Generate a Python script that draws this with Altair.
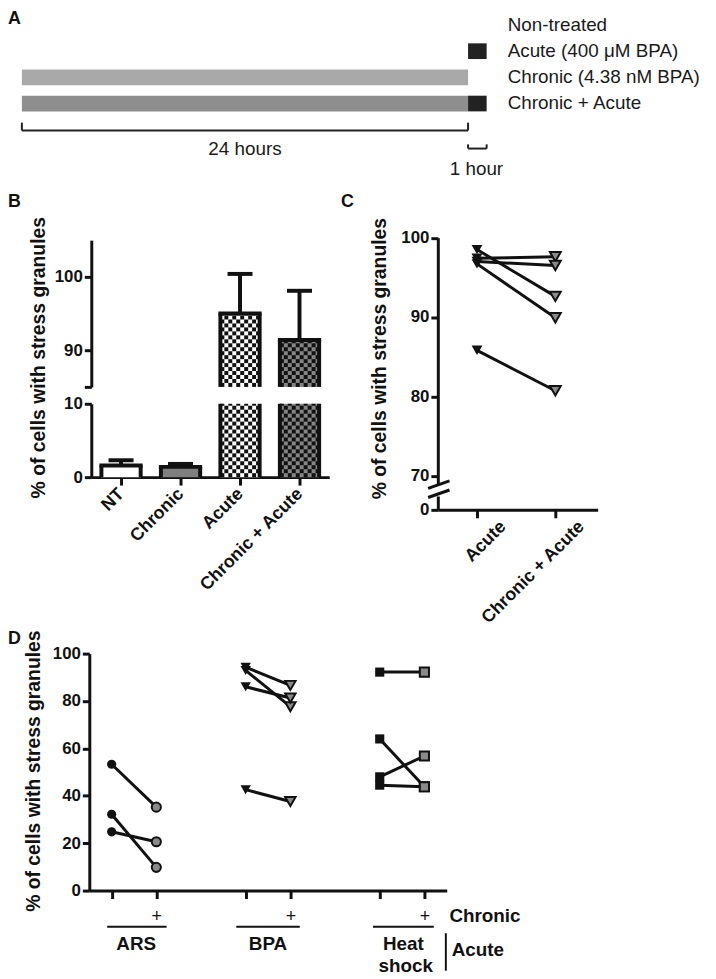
import altair as alt
import numpy as np
import pandas as pd

FONT = "Liberation Sans"
W, H = 706, 970
M = 8  # page margin: image px -> plot px


def P(v):
    return v - M


def sc(dom, rng):
    return alt.Scale(domain=list(dom), range=list(rng), nice=False, zero=False)


BLACK = "#111111"
NOAX = "none"

# ---------------- Panel A data ----------------
a_labels = ["Non-treated", "Acute (400 \u03bcM BPA)", "Chronic (4.38 nM BPA)", "Chronic + Acute"]
a_rows = [0, 1, 2, 3]
seg_row = [1, 2, 3, 3]
seg_start = [24, 0, 0, 24]
seg_end = [25, 24, 24, 25]
seg_color = ["#222222", "#a9a9a9", "#8e8e8e", "#222222"]
span_labels = ["24 hours", "1 hour"]
span_x = [12, 24.45]
span_y = [4.75, 5.51]
bracket = {"x": [0, 0, 24, 24, 24, 25], "x2": [24, 0, 24, 25, 24, 25],
           "y": [4.03, 4.03, 4.03, 4.72, 4.72, 4.72], "y2": [4.03, 3.73, 3.73, 4.72, 4.56, 4.56]}

# ---------------- Panel B data ----------------
b_cats = ["NT", "Chronic", "Acute", "Chronic + Acute"]
b_mean = [1.6, 1.4, 95.0, 91.4]
b_err = [2.3, 1.8, 100.4, 98.1]
b_fill = ["#ffffff", "#7f7f7f", "#ffffff", "#858585"]
b_checker = [False, False, True, True]

# ---------------- Panel C data ----------------
c_cats = ["Acute", "Chronic + Acute"]
c_acute = [98.5, 97.4, 97.0, 96.7, 85.8]
c_combo = [92.6, 97.6, 96.5, 89.9, 80.7]

# ---------------- Panel D data ----------------
d_groups = ["ARS", "BPA", "Heat shock"]
d_minus = {"ARS": [53.3, 32.2, 24.8], "BPA": [94.3, 92.9, 86.0, 42.6], "Heat shock": [92.2, 64.0, 48.0, 44.5]}
d_plus = {"ARS": [35.2, 9.8, 20.6], "BPA": [86.6, 77.6, 81.3, 37.6], "Heat shock": [92.2, 43.8, 56.8, 43.8]}
d_pos = {"ARS": (0.5, 1.5), "BPA": (3.5, 4.5), "Heat shock": (6.5, 7.5)}
d_shape = {"ARS": "circle", "BPA": "triangle-down", "Heat shock": "square"}
d_size = {"ARS": 85, "BPA": 110, "Heat shock": 85}


def yaxis(pos_px, values, title="", tx=0, ty=0, fs=17, label_expr=None, tfs=19.5):
    kw = dict(orient="left", offset=-pos_px, values=values, grid=False, format="d",
              domainColor=BLACK, domainWidth=3, tickColor=BLACK, tickWidth=3, tickSize=7,
              labelFont=FONT, labelFontSize=fs, labelFontWeight="bold", labelColor=BLACK,
              labelPadding=2, labelFlush=False, labelOverlap=False, title=title)
    if label_expr:
        kw["labelExpr"] = label_expr
    if title:
        kw.update(titleX=tx, titleY=ty, titleAngle=270, titleAlign="center",
                  titleBaseline="middle", titleFont=FONT, titleFontSize=tfs,
                  titleFontWeight="bold", titleColor=BLACK)
    return alt.Axis(**kw)


def xaxis(pos_px, values, label_expr, angle=0, fs=18, weight="bold", pad=2,
          align="center", baseline="top", loff=0):
    return alt.Axis(orient="bottom", offset=pos_px - H, values=values, grid=False,
                    domainColor=BLACK, domainWidth=3, tickColor=BLACK, tickWidth=3, tickSize=8,
                    labelFont=FONT, labelFontSize=fs, labelFontWeight=weight, labelColor=BLACK,
                    labelPadding=pad, labelFlush=False, labelOverlap=False, labelExpr=label_expr,
                    labelAngle=angle, labelAlign=align, labelBaseline=baseline, labelOffset=loff, title="")


def enc(xs, ys, xa=NOAX, ya=NOAX, two=False):
    """xa/ya: an alt.Axis, NOAX (no axis), or 'merge' (unspecified, merges with the panel axis)."""
    xk = dict(scale=xs)
    yk = dict(scale=ys)
    if xa is NOAX:
        xk["axis"] = None
    elif xa != "merge":
        xk["axis"] = xa
    if ya is NOAX:
        yk["axis"] = None
    elif ya != "merge":
        yk["axis"] = ya
    e = dict(x=alt.X("x:Q", **xk), y=alt.Y("y:Q", **yk))
    if two:
        e["x2"] = alt.X2("x2:Q")
        e["y2"] = alt.Y2("y2:Q")
    return e


def letter(ch, x, y, xs, ys, xa=NOAX, ya=NOAX):
    return alt.Chart(pd.DataFrame({"x": [x], "y": [y], "t": [ch]})).mark_text(
        align="left", baseline="middle", fontSize=18, fontWeight="bold", color=BLACK).encode(
        **enc(xs, ys, xa, ya), text="t:N")


# ================= Panel A =================
ax = sc([0, 24], [P(22), P(472)])
ay = sc([0, 3], [P(21), P(100.2)])
segs = pd.DataFrame({"x": seg_start, "x2": seg_end,
                     "y": [r - 0.3 for r in seg_row], "y2": [r + 0.3 for r in seg_row],
                     "c": seg_color})
A_bars = alt.Chart(segs).mark_rect().encode(**enc(ax, ay, two=True), color=alt.Color("c:N", scale=None))
A_br = alt.Chart(pd.DataFrame(bracket)).mark_rule(color="#222222", strokeWidth=2).encode(**enc(ax, ay, two=True))
A_leg = alt.Chart(pd.DataFrame({"x": [26.13] * 4, "y": a_rows, "t": a_labels})).mark_text(
    align="left", baseline="middle", fontSize=19, color="#1a1a1a").encode(**enc(ax, ay), text="t:N")
A_span = alt.Chart(pd.DataFrame({"x": span_x, "y": span_y, "t": span_labels})).mark_text(
    align="center", baseline="middle", fontSize=19, color="#1a1a1a").encode(**enc(ax, ay), text="t:N")
A_let = letter("A", -0.747, -0.22, ax, ay)
panelA = alt.layer(A_bars, A_br, A_leg, A_span, A_let)

# ================= Panel B =================
bx = sc([0, 4], [P(92), P(332)])
HALF = 0.33
CW = 4 / 60.0
CH = 4 / 7.4


def b_segment(lo, hi, ys, ya, xa):
    pieces, cells, sides, tops, errs = [], [], [], [], []
    for i, (m, e, f, chk) in enumerate(zip(b_mean, b_err, b_fill, b_checker)):
        c = i + 0.5
        if m <= lo:
            continue
        y0, y1 = lo, min(m, hi)
        pieces.append({"x": c - HALF, "x2": c + HALF, "y": y0, "y2": y1, "c": f})
        if chk:
            nx = int(np.ceil(2 * HALF / CW))
            ny = int(np.ceil((y1 - y0) / CH))
            for ix in range(nx):
                for iy in range(ny):
                    if (ix + iy) % 2 == 0:
                        cells.append({"x": c - HALF + ix * CW, "x2": min(c - HALF + (ix + 1) * CW, c + HALF),
                                      "y": y0 + iy * CH, "y2": min(y0 + (iy + 1) * CH, y1)})
        sides.append({"x": c - HALF, "x2": c - HALF, "y": y0, "y2": y1})
        sides.append({"x": c + HALF, "x2": c + HALF, "y": y0, "y2": y1})
        if m <= hi:
            tops.append({"x": c - HALF, "x2": c + HALF, "y": m, "y2": m})
            errs.append({"x": c, "x2": c, "y": m, "y2": e})
            errs.append({"x": c - 0.21, "x2": c + 0.21, "y": e, "y2": e})
    cols = ["x", "x2", "y", "y2"]
    mx = NOAX if xa is NOAX else "merge"
    my = "merge"
    fill = alt.Chart(pd.DataFrame(pieces)).mark_rect().encode(
        **enc(bx, ys, xa, ya, two=True), color=alt.Color("c:N", scale=None))
    layers = [fill]
    if cells:
        layers.append(alt.Chart(pd.DataFrame(cells)).mark_rect(color=BLACK).encode(**enc(bx, ys, mx, my, two=True)))
    layers.append(alt.Chart(pd.DataFrame(sides, columns=cols)).mark_rule(color=BLACK, strokeWidth=4).encode(
        **enc(bx, ys, mx, my, two=True)))
    if tops:
        layers.append(alt.Chart(pd.DataFrame(tops)).mark_rule(color=BLACK, strokeWidth=4, strokeCap="square").encode(
            **enc(bx, ys, mx, my, two=True)))
    if errs:
        layers.append(alt.Chart(pd.DataFrame(errs)).mark_rule(color=BLACK, strokeWidth=4).encode(
            **enc(bx, ys, mx, my, two=True)))
    return layers


by_low = sc([0, 10], [P(477), P(403)])
by_up = sc([85, 105], [P(386), P(238)])
b_label_expr = "[" + ",".join("'%s'" % s for s in b_cats) + "][floor(datum.value)]"
B_low_layers = b_segment(0, 10, by_low,
                         yaxis(P(92), [0, 10], "% of cells with stress granules", tx=38.5 - 92, ty=P(356)),
                         xaxis(P(477), [0.5, 1.5, 2.5, 3.5], b_label_expr, angle=315, align="right",
                               baseline="middle", pad=6))
B_up_layers = b_segment(85, 105, by_up,
                        yaxis(P(92), [85, 90, 100], label_expr="datum.value == 85 ? '' : datum.label"), NOAX)
B_let = letter("B", (8 - 92) / 60.0, 85 + (386 - 200) / 7.4, bx, by_up, NOAX, "merge")
panelB_low = alt.layer(*B_low_layers)
panelB_up = alt.layer(*B_up_layers, B_let)

# ================= Panel C =================
cx = sc([0, 2.04], [P(441.5), P(602.7)])
cy_up = sc([69, 100], [P(483.5), P(235.5)])
cy_low = sc([0, 1.75], [P(510), P(496)])
c_rows = []
for k, (a, b) in enumerate(zip(c_acute, c_combo)):
    c_rows.append({"x": 0.5, "y": a, "pair": k, "side": "minus"})
    c_rows.append({"x": 1.5, "y": b, "pair": k, "side": "plus"})
c_df = pd.DataFrame(c_rows)
C_line = alt.Chart(c_df).mark_line(color=BLACK, strokeWidth=3).encode(
    **enc(cx, cy_up, NOAX, yaxis(P(441.5), [70, 80, 90, 100], "% of cells with stress granules",
                                 tx=383 - 441.5, ty=P(357))), detail="pair:N")
C_pm = alt.Chart(c_df).transform_filter("datum.side == 'minus'").mark_point(
    shape="triangle-down", filled=True, size=120, color=BLACK, opacity=1).encode(**enc(cx, cy_up, NOAX, "merge"))
C_pp = alt.Chart(c_df).transform_filter("datum.side == 'plus'").mark_point(
    shape="triangle-down", filled=True, size=120, fill="#8a8a8a", stroke=BLACK, strokeWidth=2, opacity=1).encode(
    **enc(cx, cy_up, NOAX, "merge"))
C_let = letter("C", (344 - 441.5) / 79.0, 69 + (483.5 - 200) / 8.0, cx, cy_up, NOAX, "merge")
panelC_up = alt.layer(C_line, C_pm, C_pp, C_let)

slash = pd.DataFrame({"x": [-0.124, -0.124], "x2": [0.149, 0.149], "y": [2.71, 1.56], "y2": [3.66, 2.5]})
c_label_expr = "[" + ",".join("'%s'" % s for s in c_cats) + "][floor(datum.value)]"
C_slash = alt.Chart(slash).mark_rule(color=BLACK, strokeWidth=3).encode(
    **enc(cx, cy_low, xaxis(P(510), [0.5, 1.5], c_label_expr, angle=315, align="right", baseline="middle",
                            pad=6, loff=26),
          yaxis(P(441.5), [0]), two=True))
panelC_low = alt.layer(C_slash)

# ================= Panel D =================
dx = sc([0, 8], [P(90), P(450.5)])
dy = sc([0, 100], [P(894), P(655)])
d_rows = []
for g in d_groups:
    for k, (a, b) in enumerate(zip(d_minus[g], d_plus[g])):
        d_rows.append({"x": d_pos[g][0], "y": a, "pair": g + str(k), "g": g, "side": "minus"})
        d_rows.append({"x": d_pos[g][1], "y": b, "pair": g + str(k), "g": g, "side": "plus"})
d_df = pd.DataFrame(d_rows)
d_tick_expr = "(datum.value == 1.5 || datum.value == 4.5 || datum.value == 7.5) ? '+' : ''"
D_line = alt.Chart(d_df).mark_line(color=BLACK, strokeWidth=3).encode(
    **enc(dx, dy, xaxis(P(894), [0.5, 1.5, 3.5, 4.5, 6.5, 7.5], d_tick_expr, fs=18, weight="normal",
                        pad=18, baseline="middle"),
          yaxis(P(90), [0, 20, 40, 60, 80, 100], "% of cells with stress granules", tx=33.5 - 90, ty=P(773))),
    detail="pair:N")
D_pts = []
for g in d_groups:
    D_pts.append(alt.Chart(d_df).transform_filter("datum.g == '%s' && datum.side == 'minus'" % g).mark_point(
        shape=d_shape[g], filled=True, size=d_size[g], color=BLACK, opacity=1).encode(**enc(dx, dy, "merge", "merge")))
    D_pts.append(alt.Chart(d_df).transform_filter("datum.g == '%s' && datum.side == 'plus'" % g).mark_point(
        shape=d_shape[g], filled=True, size=d_size[g], fill="#8a8a8a", stroke=BLACK, strokeWidth=2, opacity=1).encode(
        **enc(dx, dy, "merge", "merge")))

grp_text = pd.DataFrame({"x": [1.05, 4.0, 7.03, 7.08], "y": [-22.6, -22.6, -22.6, -31.8],
                         "t": ["ARS", "BPA", "Heat", "shock"]})
D_grp = alt.Chart(grp_text).mark_text(align="center", baseline="middle", fontSize=19, fontWeight="bold",
                                      color=BLACK).encode(**enc(dx, dy, "merge", "merge"), text="t:N")
side_text = pd.DataFrame({"x": [8.06, 8.11], "y": [-10.6, -25.0], "t": ["Chronic", "Acute"]})
D_side = alt.Chart(side_text).mark_text(align="left", baseline="middle", fontSize=19, fontWeight="bold",
                                        color=BLACK).encode(**enc(dx, dy, "merge", "merge"), text="t:N")
d_lines = pd.DataFrame({"x": [0.4, 3.29, 6.35, 7.98], "x2": [1.73, 4.71, 7.71, 7.98],
                        "y": [-15.3, -15.3, -15.3, -18.0], "y2": [-15.3, -15.3, -15.3, -33.8]})
D_rules = alt.Chart(d_lines).mark_rule(color=BLACK, strokeWidth=2).encode(**enc(dx, dy, "merge", "merge", two=True))
D_let = letter("D", (8 - 90) / 45.06, (894 - 640) / 2.393, dx, dy, "merge", "merge")
panelD = alt.layer(D_line, *D_pts, D_grp, D_side, D_rules, D_let)

chart = alt.layer(panelA, panelB_low, panelB_up, panelC_up, panelC_low, panelD).resolve_scale(
    x="independent", y="independent").resolve_axis(x="independent", y="independent").properties(
    width=W, height=H, padding=0, autosize=alt.AutoSizeParams(type="none")).configure(
    font=FONT).configure_view(stroke=None)

chart.save("out.html", embed_options={"renderer": "svg", "actions": False})
